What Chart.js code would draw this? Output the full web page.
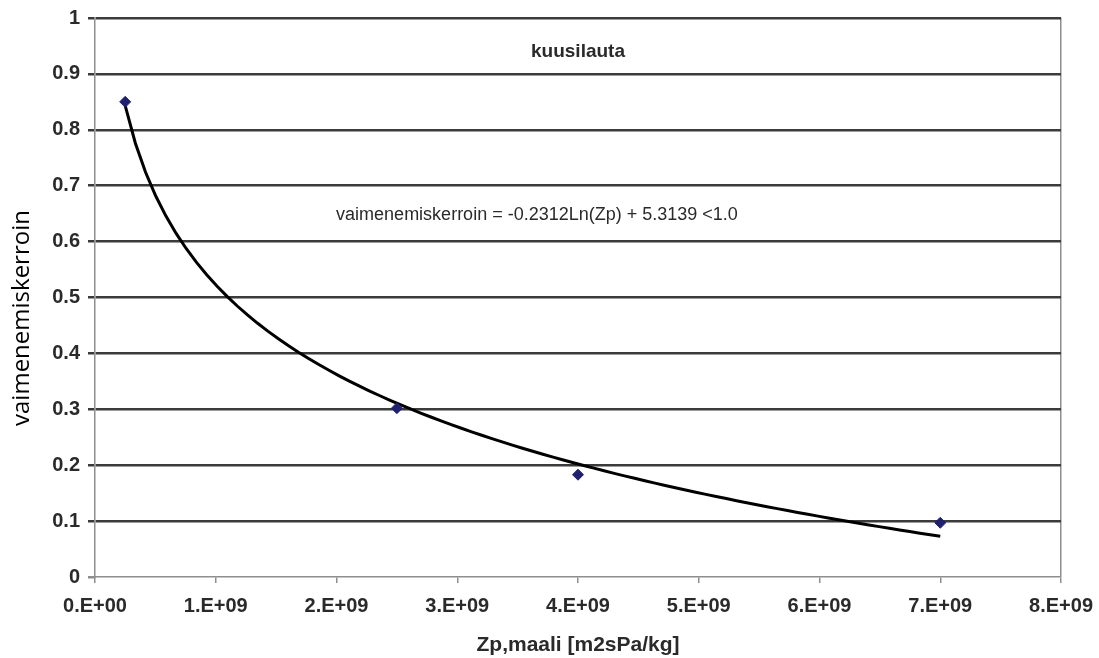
<!DOCTYPE html>
<html>
<head>
<meta charset="utf-8">
<title>kuusilauta</title>
<script src="https://cdn.jsdelivr.net/npm/chart.js@4"></script>
<style>
	html, body { margin: 0; padding: 0; background: #fff; overflow: hidden; }
	canvas { display: block; }
</style>
</head>
<body>
<canvas id="zpChart" width="1106" height="658"></canvas>
<script>
// Mittapisteet: Zp,maali ja vaimenemiskerroin
const zpValues = [2.5e8, 2.5e9, 4.0e9, 7.0e9];
const kerroinValues = [0.85, 0.302, 0.183, 0.097];

// Logaritminen sovite: k = a*Ln(Zp) + b
const trendA = -0.2312;
const trendB = 5.3139;
const trendFrom = 2.5e8;
const trendTo = 7.0e9;

const xTickLabels = ['0.E+00', '1.E+09', '2.E+09', '3.E+09', '4.E+09', '5.E+09', '6.E+09', '7.E+09', '8.E+09'];
const yTickLabels = ['0', '0.1', '0.2', '0.3', '0.4', '0.5', '0.6', '0.7', '0.8', '0.9', '1'];

const chartTitle = 'kuusilauta';
const equationText = 'vaimenemiskerroin = -0.2312Ln(Zp) + 5.3139 <1.0';
const xTitle = 'Zp,maali [m2sPa/kg]';
const yTitle = 'vaimenemiskerroin';

// Sovitekäyrä lasketaan yhtälön kertoimista
const trendPoints = [];
const steps = 80;
for (let i = 0; i <= steps; i++) {
	const zp = trendFrom + (trendTo - trendFrom) * i / steps;
	trendPoints.push({ x: zp, y: trendA * Math.log(zp) + trendB });
}

const gridDark = '#3b3b3b';
const axisGray = '#8e8e8e';
const textColor = '#2a2a2a';
const labelFont = { family: '"Liberation Sans", Arial, sans-serif', size: 20, weight: 'bold', lineHeight: 1 };

// Tekstit: otsikko, yhtälö ja akselien nimet
const textPlugin = {
	id: 'chartTexts',
	afterDraw(chart) {
		const { ctx, scales: { x, y }, chartArea } = chart;
		ctx.save();
		ctx.fillStyle = textColor;
		ctx.textAlign = 'center';
		ctx.textBaseline = 'middle';
		ctx.font = 'bold 19px "Liberation Sans", Arial, sans-serif';
		ctx.fillText(chartTitle, x.getPixelForValue(4.0e9), y.getPixelForValue(0.94));
		ctx.font = '18px "Liberation Sans", Arial, sans-serif';
		ctx.fillText(equationText, x.getPixelForValue(3.66e9), y.getPixelForValue(0.648));

		ctx.font = 'bold 21px "Liberation Sans", Arial, sans-serif';
		ctx.fillText(xTitle, (chartArea.left + chartArea.right) / 2, 645);

		ctx.fillStyle = '#000';
		ctx.font = '24px "Open Sans", sans-serif';
		ctx.translate(22, 318);
		ctx.rotate(-Math.PI / 2);
		ctx.fillText(yTitle, 0, 0);
		ctx.restore();
	}
};

new Chart(document.getElementById('zpChart'), {
	type: 'scatter',
	data: {
		datasets: [
			{
				label: 'mitattu',
				data: zpValues.map((zp, i) => ({ x: zp, y: kerroinValues[i] })),
				pointStyle: 'rectRot',
				pointRadius: 5.5,
				pointBackgroundColor: '#1f2170',
				pointBorderColor: '#1f2170',
				showLine: false,
				order: 0
			},
			{
				label: 'sovite',
				data: trendPoints,
				showLine: true,
				borderColor: '#000',
				borderWidth: 3,
				pointRadius: 0,
				tension: 0,
				order: 1
			}
		]
	},
	options: {
		responsive: false,
		animation: false,
		layout: { padding: { top: 17, right: 37, left: 0, bottom: 0 } },
		plugins: {
			legend: { display: false },
			tooltip: { enabled: false }
		},
		scales: {
			x: {
				type: 'linear',
				min: 0,
				max: 8e9,
				afterFit: scale => { scale.height = 81; },
				afterBuildTicks: scale => {
					scale.ticks = xTickLabels.map((_, i) => ({ value: i * 1e9 }));
				},
				ticks: {
					autoSkip: false,
					maxRotation: 0,
					padding: 13,
					color: textColor,
					font: labelFont,
					callback: (value, index) => xTickLabels[index]
				},
				grid: {
					color: ctx => (ctx.tick && ctx.tick.value === 8e9) ? axisGray : 'transparent',
					lineWidth: 1.5,
					tickColor: axisGray,
					tickLength: 6
				},
				border: { color: axisGray, width: 1.5 }
			},
			y: {
				min: 0,
				max: 1,
				afterFit: scale => { scale.width = 95; },
				afterBuildTicks: scale => {
					scale.ticks = yTickLabels.map((_, i) => ({ value: i / 10 }));
				},
				ticks: {
					padding: 8,
					color: textColor,
					font: labelFont,
					callback: (value, index) => yTickLabels[index]
				},
				grid: {
					color: ctx => (ctx.tick && ctx.tick.value === 0) ? 'transparent' : gridDark,
					lineWidth: 2.5,
					tickColor: ctx => (ctx.tick && ctx.tick.value === 0) ? axisGray : gridDark,
					tickLength: 7
				},
				border: { color: axisGray, width: 1.5 }
			}
		}
	},
	plugins: [textPlugin]
});
</script>
</body>
</html>
